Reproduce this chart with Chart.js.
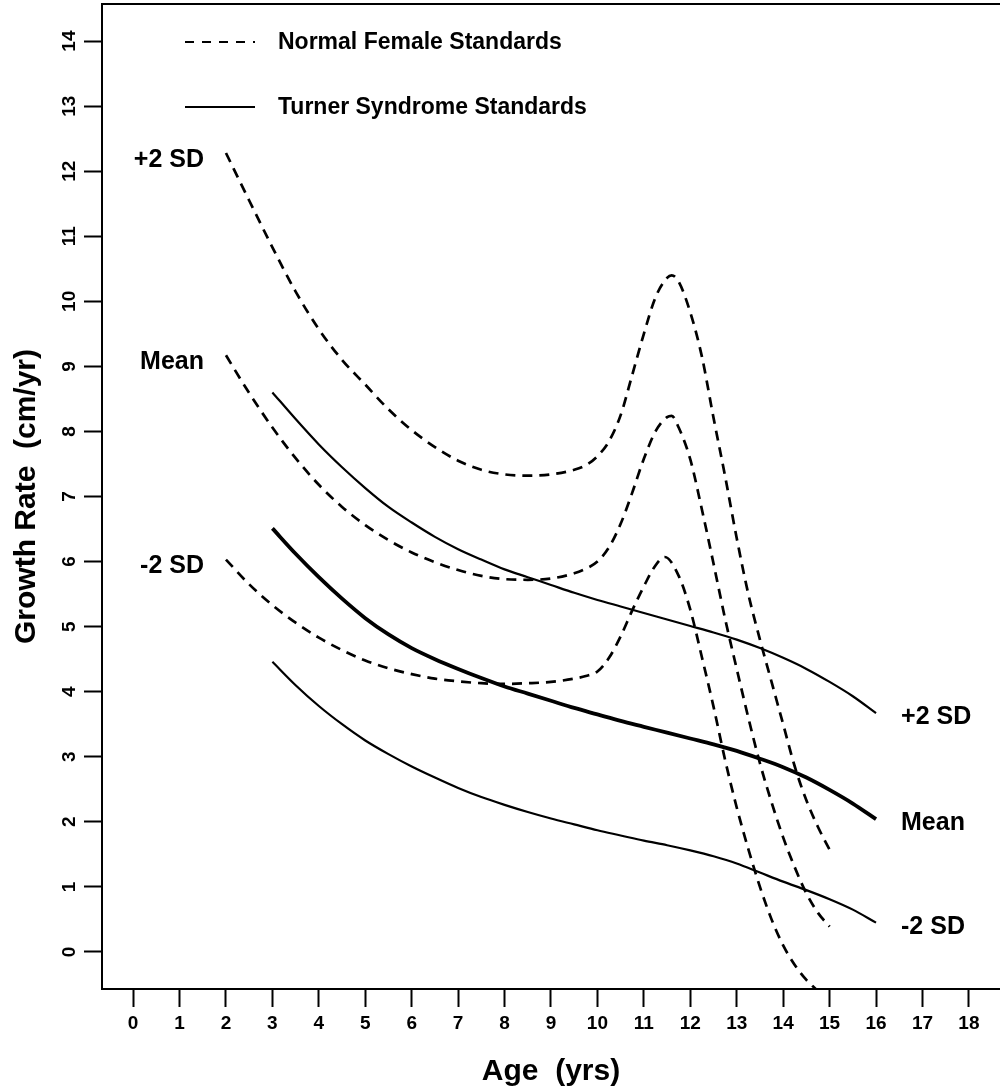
<!DOCTYPE html>
<html>
<head>
<meta charset="utf-8">
<style>
  html, body { margin: 0; padding: 0; background: #ffffff; }
  #wrap { width: 1000px; height: 1090px; position: relative; }
  canvas { display: block; }
</style>
<script src="https://cdn.jsdelivr.net/npm/chart.js@4/dist/chart.umd.min.js"></script>
</head>
<body>
<div id="wrap"><canvas id="chart" width="1000" height="1090" style="width:1000px;height:1090px"></canvas></div>
<script>
// ---------- data ----------
const X_TICKS = [0, 1, 2, 3, 4, 5, 6, 7, 8, 9, 10, 11, 12, 13, 14, 15, 16, 17, 18];
const Y_TICKS = [0, 1, 2, 3, 4, 5, 6, 7, 8, 9, 10, 11, 12, 13, 14];
const X_RANGE = [-0.67, 18.67];
const Y_RANGE = [-0.57, 14.57];

const LEGEND_LABELS = ['Normal Female Standards', 'Turner Syndrome Standards'];
const SD_LABELS = ['+2 SD', 'Mean', '-2 SD'];
const X_TITLE = 'Age  (yrs)';
const Y_TITLE = 'Growth Rate  (cm/yr)';

// Normal female standards (dashed)
const NORMAL_AGES = [2, 2.5, 3, 3.5, 4, 4.5, 5, 5.5, 6, 6.5, 7, 7.5, 8, 8.5, 9, 9.5, 9.75, 10,
  10.25, 10.5, 10.75, 11, 11.25, 11.5, 11.6, 11.75, 12, 12.25, 12.5, 12.75, 13,
  13.25, 13.5, 13.75, 14, 14.25, 14.5, 14.75, 15];
const NORMAL_P2 = [12.28, 11.55, 10.83, 10.15, 9.57, 9.10, 8.72, 8.34, 8.02, 7.76, 7.55, 7.41, 7.34, 7.32, 7.34, 7.41, 7.48, 7.62,
  7.85, 8.25, 8.87, 9.50, 10.06, 10.36, 10.40, 10.30, 9.83, 9.15, 8.21, 7.31, 6.36,
  5.50, 4.80, 4.15, 3.50, 2.85, 2.33, 1.92, 1.57];
const NORMAL_MEAN = [9.17, 8.59, 8.06, 7.59, 7.18, 6.84, 6.56, 6.33, 6.14, 5.99, 5.87, 5.78, 5.73, 5.72, 5.74, 5.82, 5.89, 6.0,
  6.22, 6.58, 7.06, 7.58, 8.0, 8.22, 8.24, 8.06, 7.57, 6.8, 5.97, 5.12, 4.35,
  3.6, 2.9, 2.3, 1.76, 1.3, 0.9, 0.6, 0.39];
const NORMAL_M2_AGES = [2, 2.5, 3, 3.5, 4, 4.5, 5, 5.5, 6, 6.5, 7, 7.5, 8, 8.5, 9, 9.5, 9.75, 10,
  10.25, 10.5, 10.75, 11, 11.25, 11.45, 11.75, 12, 12.25, 12.5, 12.75, 13,
  13.25, 13.5, 13.75, 14, 14.25, 14.5, 14.7];
const NORMAL_M2 = [6.03, 5.65, 5.33, 5.06, 4.83, 4.64, 4.48, 4.36, 4.27, 4.20, 4.16, 4.13, 4.12, 4.13, 4.15, 4.20, 4.24, 4.31,
  4.52, 4.85, 5.25, 5.62, 5.94, 6.07, 5.78, 5.26, 4.53, 3.77, 2.95, 2.22,
  1.58, 1.00, 0.50, 0.10, -0.20, -0.43, -0.57];

// Turner syndrome standards (solid)
const TURNER_AGES = [3, 3.5, 4, 4.5, 5, 5.5, 6, 6.5, 7, 7.5, 8, 8.5, 9, 9.5, 10, 10.5, 11, 11.5, 12, 12.5, 13, 13.5, 14, 14.5, 15, 15.5, 16];
const TURNER_P2 = [8.6, 8.19, 7.80, 7.45, 7.13, 6.84, 6.60, 6.38, 6.19, 6.03, 5.88, 5.76, 5.64, 5.52, 5.41, 5.31, 5.21, 5.11, 5.01, 4.91, 4.80, 4.67, 4.52, 4.35, 4.15, 3.93, 3.67];
const TURNER_MEAN = [6.51, 6.12, 5.76, 5.43, 5.13, 4.88, 4.67, 4.50, 4.35, 4.21, 4.08, 3.97, 3.86, 3.75, 3.65, 3.55, 3.46, 3.37, 3.28, 3.19, 3.09, 2.97, 2.84, 2.68, 2.49, 2.28, 2.04];
const TURNER_M2 = [4.46, 4.10, 3.78, 3.50, 3.25, 3.04, 2.85, 2.68, 2.52, 2.38, 2.26, 2.15, 2.05, 1.96, 1.87, 1.79, 1.71, 1.64, 1.56, 1.47, 1.36, 1.22, 1.08, 0.95, 0.81, 0.65, 0.45];

// ---------- helpers ----------
const FONT = '"Liberation Sans", Arial, Helvetica, sans-serif';
const pts = (xs, ys) => xs.map((x, i) => ({ x: x, y: ys[i] }));

function lineDs(label, xs, ys, width, dashed) {
  return {
    label: label,
    data: pts(xs, ys),
    borderColor: '#000000',
    backgroundColor: '#000000',
    borderWidth: width,
    borderDash: dashed ? [10, 7] : [],
    borderCapStyle: 'butt',
    borderJoinStyle: 'round',
    pointRadius: 0,
    pointHoverRadius: 0,
    fill: false,
    cubicInterpolationMode: 'monotone',
    spanGaps: true
  };
}

const datasets = [
  lineDs('Normal +2 SD', NORMAL_AGES, NORMAL_P2, 2.7, true),
  lineDs('Normal Mean', NORMAL_AGES, NORMAL_MEAN, 2.7, true),
  lineDs('Normal -2 SD', NORMAL_M2_AGES, NORMAL_M2, 2.7, true),
  lineDs('Turner +2 SD', TURNER_AGES, TURNER_P2, 2.2, false),
  lineDs('Turner Mean', TURNER_AGES, TURNER_MEAN, 3.8, false),
  lineDs('Turner -2 SD', TURNER_AGES, TURNER_M2, 2.2, false)
];
const LEFT_LABEL_SETS = [0, 1, 2];
const RIGHT_LABEL_SETS = [3, 4, 5];

const overlay = {
  id: 'overlay',
  afterDatasetsDraw(chart) {
    const { ctx, chartArea: a } = chart;
    ctx.save();
    // top frame line
    ctx.strokeStyle = '#000';
    ctx.lineWidth = 2;
    ctx.setLineDash([]);
    ctx.beginPath();
    ctx.moveTo(a.left - 1, a.top);
    ctx.lineTo(a.right, a.top);
    ctx.stroke();

    // legend
    const lx0 = a.left + 83, lx1 = a.left + 153, tx = a.left + 176;
    const ly = [a.top + 38, a.top + 103];
    ctx.lineWidth = 2.2;
    ctx.setLineDash([9, 8]);
    ctx.beginPath(); ctx.moveTo(lx0, ly[0]); ctx.lineTo(lx1, ly[0]); ctx.stroke();
    ctx.setLineDash([]);
    ctx.beginPath(); ctx.moveTo(lx0, ly[1]); ctx.lineTo(lx1, ly[1]); ctx.stroke();
    ctx.fillStyle = '#000';
    ctx.font = 'bold 23px ' + FONT;
    ctx.textAlign = 'left';
    ctx.textBaseline = 'middle';
    ctx.fillText(LEGEND_LABELS[0], tx, ly[0] + 1);
    ctx.fillText(LEGEND_LABELS[1], tx, ly[1] + 1);

    // curve labels
    ctx.font = 'bold 25px ' + FONT;
    ctx.textAlign = 'right';
    LEFT_LABEL_SETS.forEach((di, k) => {
      const p = chart.getDatasetMeta(di).data[0];
      ctx.fillText(SD_LABELS[k], p.x - 22, p.y + 7);
    });
    ctx.textAlign = 'left';
    RIGHT_LABEL_SETS.forEach((di, k) => {
      const d = chart.getDatasetMeta(di).data;
      const p = d[d.length - 1];
      ctx.fillText(SD_LABELS[k], p.x + 25, p.y + 4);
    });
    ctx.restore();
  }
};

new Chart(document.getElementById('chart').getContext('2d'), {
  type: 'line',
  data: { datasets: datasets },
  options: {
    responsive: false,
    animation: false,
    devicePixelRatio: 1,
    layout: { padding: { top: 4, right: 0, bottom: 0, left: 0 } },
    plugins: { legend: { display: false }, tooltip: { enabled: false } },
    events: [],
    scales: {
      x: {
        type: 'linear',
        position: 'bottom',
        min: X_RANGE[0],
        max: X_RANGE[1],
        afterBuildTicks: (s) => { s.ticks = X_TICKS.map(v => ({ value: v })); },
        afterFit: (s) => { s.height = 101; s.paddingLeft = 0; s.paddingRight = 0; },
        ticks: {
          color: '#000',
          font: { family: FONT, size: 19, weight: 'bold' },
          padding: 5,
          maxRotation: 0,
          minRotation: 0,
          autoSkip: false
        },
        grid: { display: true, drawOnChartArea: false, drawTicks: true, tickLength: 18, tickWidth: 2, tickColor: '#000', color: '#000' },
        border: { display: true, color: '#000', width: 2 },
        title: {
          display: true,
          text: X_TITLE,
          color: '#000',
          font: { family: FONT, size: 30, weight: 'bold' },
          padding: { top: 0, bottom: 0 }
        }
      },
      y: {
        type: 'linear',
        position: 'left',
        min: Y_RANGE[0],
        max: Y_RANGE[1],
        afterBuildTicks: (s) => { s.ticks = Y_TICKS.map(v => ({ value: v })); },
        afterFit: (s) => { s.width = 102; s.paddingTop = 0; s.paddingBottom = 0; },
        ticks: {
          color: '#000',
          font: { family: FONT, size: 19, weight: 'bold' },
          padding: 4,
          minRotation: 90,
          maxRotation: 90,
          crossAlign: 'center',
          autoSkip: false
        },
        grid: { display: true, drawOnChartArea: false, drawTicks: true, tickLength: 18, tickWidth: 2, tickColor: '#000', color: '#000' },
        border: { display: true, color: '#000', width: 2 },
        title: {
          display: true,
          text: Y_TITLE,
          color: '#000',
          font: { family: FONT, size: 30, weight: 'bold' },
          padding: { top: 9, bottom: 0 }
        }
      }
    }
  },
  plugins: [overlay]
});
</script>
</body>
</html>
